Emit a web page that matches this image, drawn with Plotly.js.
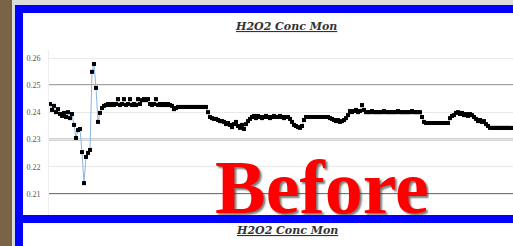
<!DOCTYPE html>
<html>
<head>
<meta charset="utf-8">
<script src="https://cdn.plot.ly/plotly-3.0.1.min.js"></script>
<style>html,body{margin:0;padding:0;background:#fff;}#chart{width:513px;height:246px;}</style>
</head>
<body>
<div id="chart"></div>
<script>
// H2O2 concentration readings (one value per sample)
const h2o2Values = [
  0.2431,0.2409,0.2424,0.2401,0.2412,0.2394,0.2387,0.2398,0.2383,0.2401,
  0.2379,0.2394,0.2354,0.2306,0.2335,0.2339,0.2254,0.2140,0.2236,0.2251,
  0.2262,0.2549,0.2578,0.2490,0.2365,0.2398,0.2416,0.2424,0.2427,0.2431,
  0.2427,0.2431,0.2427,0.2431,0.2449,0.2427,0.2431,0.2449,0.2427,0.2431,
  0.2449,0.2427,0.2431,0.2427,0.2449,0.2431,0.2445,0.2449,0.2445,0.2449,
  0.2431,0.2427,0.2431,0.2449,0.2427,0.2431,0.2427,0.2431,0.2427,0.2431,
  0.2427,0.2424,0.2412,0.2416,0.2420,0.2420,0.2420,0.2420,0.2420,0.2420,
  0.2420,0.2420,0.2420,0.2420,0.2420,0.2420,0.2420,0.2420,0.2420,0.2401,
  0.2383,0.2379,0.2376,0.2376,0.2372,0.2368,0.2368,0.2365,0.2357,0.2361,
  0.2354,0.2346,0.2357,0.2365,0.2350,0.2343,0.2354,0.2339,0.2357,0.2368,
  0.2376,0.2383,0.2387,0.2379,0.2387,0.2383,0.2379,0.2383,0.2387,0.2383,
  0.2379,0.2383,0.2387,0.2383,0.2383,0.2387,0.2383,0.2379,0.2383,0.2383,
  0.2376,0.2365,0.2354,0.2350,0.2346,0.2343,0.2350,0.2372,0.2383,0.2383,
  0.2383,0.2383,0.2383,0.2383,0.2383,0.2383,0.2383,0.2383,0.2383,0.2383,
  0.2379,0.2376,0.2372,0.2368,0.2372,0.2365,0.2368,0.2372,0.2379,0.2390,
  0.2405,0.2401,0.2405,0.2409,0.2401,0.2405,0.2427,0.2409,0.2401,0.2401,
  0.2401,0.2405,0.2401,0.2401,0.2401,0.2401,0.2401,0.2405,0.2401,0.2401,
  0.2401,0.2401,0.2401,0.2401,0.2405,0.2401,0.2401,0.2401,0.2401,0.2401,
  0.2401,0.2405,0.2401,0.2401,0.2401,0.2401,0.2383,0.2365,0.2361,0.2361,
  0.2361,0.2361,0.2361,0.2361,0.2361,0.2361,0.2361,0.2361,0.2361,0.2361,
  0.2379,0.2387,0.2390,0.2398,0.2401,0.2394,0.2398,0.2390,0.2394,0.2387,
  0.2394,0.2390,0.2383,0.2376,0.2368,0.2372,0.2365,0.2368,0.2357,0.2350,
  0.2343,0.2343,0.2343,0.2343,0.2343,0.2343,0.2343,0.2343,0.2343,0.2343,
  0.2343,0.2343,0.2343
];
const yTickVals = [0.21, 0.22, 0.23, 0.24, 0.25, 0.26];
const yTickText = ['0.21', '0.22', '0.23', '0.24', '0.25', '0.26'];
const darkGridVals = [0.21, 0.23, 0.25];
const chartTitle = 'H2O2 Conc Mon';
const stampText = 'Before';

const W = 513, H = 246;
const px = v => v / W;
const py = v => 1 - v / H;

const trace = {
  y: h2o2Values,
  type: 'scatter',
  mode: 'lines+markers',
  line: {color: '#8cb4e2', width: 1},
  marker: {color: '#000000', size: 4, symbol: 'square'},
  hoverinfo: 'skip'
};

const shapes = [];
darkGridVals.forEach(v => shapes.push({
  type: 'line', xref: 'paper', yref: 'y', x0: px(49), x1: 1, y0: v, y1: v,
  line: {color: '#4a4a4a', width: 1.5}, layer: 'below'
}));
const rect = (x0, y0, x1, y1, color) => ({
  type: 'rect', xref: 'paper', yref: 'paper',
  x0: px(x0), x1: px(x1), y0: py(y1), y1: py(y0),
  fillcolor: color, line: {width: 0}, layer: 'above'
});
shapes.push(rect(0, 0, 12, 246, '#7b6348'));
shapes.push(rect(12, 0, 15, 246, '#d9d9d9'));
shapes.push(rect(12, 0, 513, 5, '#dcdcdc'));
shapes.push(rect(15, 5, 23, 246, '#0000ff'));
shapes.push(rect(15, 5, 513, 13, '#0000ff'));
shapes.push(rect(15, 215, 513, 223, '#0000ff'));

const titleFont = {family: 'DejaVu Serif', size: 11, color: '#333333',
                   weight: 'bold', style: 'italic', lineposition: 'under'};
const annotations = [
  {xref: 'paper', yref: 'paper', x: px(286), y: py(26), xanchor: 'center', yanchor: 'middle',
   text: chartTitle, showarrow: false, font: titleFont},
  {xref: 'paper', yref: 'paper', x: px(287), y: py(230), xanchor: 'center', yanchor: 'middle',
   text: chartTitle, showarrow: false, font: titleFont},
  {xref: 'paper', yref: 'paper', x: px(213), y: py(216.5), xanchor: 'left', yanchor: 'bottom',
   height: 56, valign: 'middle',
   text: stampText, showarrow: false,
   font: {family: 'Liberation Serif, serif', size: 76, color: '#ff0000', weight: 'bold',
          shadow: '2px 2px 2px rgba(40,40,40,0.6)'}}
];

const layout = {
  width: W, height: H,
  margin: {l: 0, r: 0, t: 0, b: 0},
  paper_bgcolor: '#ffffff', plot_bgcolor: '#ffffff',
  showlegend: false,
  xaxis: {domain: [px(49), 1], range: [-0.5, 231.5], showgrid: false, zeroline: false,
          showticklabels: false, ticks: '', showline: false, fixedrange: true},
  yaxis: {domain: [py(215), py(50)], range: [0.20228, 0.26294], tickvals: yTickVals, ticktext: yTickText,
          showgrid: true, gridcolor: '#e8e8e8', gridwidth: 1, zeroline: false,
          showline: true, linecolor: '#eeeeee', linewidth: 1, ticks: '',
          tickfont: {family: 'Liberation Serif, serif', size: 8, color: '#555555'}, ticklabelstandoff: 6},
  shapes: shapes,
  annotations: annotations
};

Plotly.newPlot('chart', [trace], layout, {displayModeBar: false, staticPlot: true});
</script>
</body>
</html>
